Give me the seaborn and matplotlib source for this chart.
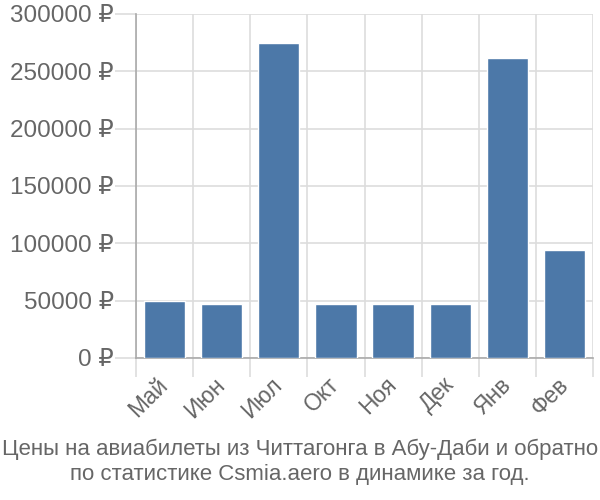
import matplotlib
matplotlib.use("Agg")
import matplotlib.pyplot as plt
import matplotlib.transforms as mtrans
import seaborn as sns
import pandas as pd
import numpy as np

months = ["Май", "Июн", "Июл", "Окт", "Ноя", "Дек", "Янв", "Фев"]
prices = [49500, 47500, 275000, 47500, 47500, 47500, 262000, 94500]
yticks = [0, 50000, 100000, 150000, 200000, 250000, 300000]
caption = "Цены на авиабилеты из Читтагонга в Абу-Даби и обратно\nпо статистике Csmia.aero в динамике за год."

sns.set_theme(style="white")
plt.rcParams['font.family'] = ['Liberation Sans', 'DejaVu Sans']

df = pd.DataFrame({"month": months, "price": prices})

fig = plt.figure(figsize=(6, 5), dpi=100)
ax = fig.add_axes([0.2267, 0.284, 0.7616, 0.688])
sns.barplot(data=df, x="month", y="price", color="#4c78a8", saturation=1,
            width=0.72, ax=ax, zorder=3)

grid_c = "#dddddd"
axis_c = "#aaaaaa"
text_c = "#666666"

n = len(months)
ax.set_xlim(-0.5, n - 0.5)
ax.set_ylim(0, 300000)

for b in np.arange(-0.5, n, 1.0):
    ax.axvline(b, color=grid_c, lw=1.2, zorder=0)
for y in yticks:
    ax.axhline(y, color=grid_c, lw=1.2, zorder=0)

ax.set_yticks(yticks)
ax.set_yticklabels([f"{v} ₽" for v in yticks], fontsize=17.5, color=text_c)
ax.tick_params(axis="y", length=15, width=1.2, color=grid_c, pad=1, left=True)

ax.set_xticks(range(n))
ax.set_xticklabels(months, rotation=45, ha="right", rotation_mode="anchor",
                   fontsize=16.5, color=text_c)
ax.tick_params(axis="x", length=0, pad=11, bottom=True)
ax.set_xticks(np.arange(-0.5, n, 1.0), minor=True)
ax.tick_params(axis="x", which="minor", length=14, width=1.2, color=grid_c, bottom=True)
shift = mtrans.ScaledTranslation(-8 / 100, 0, fig.dpi_scale_trans)
for lbl in ax.get_xticklabels():
    lbl.set_transform(lbl.get_transform() + shift)

for s in ["top", "right"]:
    ax.spines[s].set_visible(False)
ax.spines["left"].set_color(axis_c)
ax.spines["left"].set_linewidth(1.2)
ax.spines["bottom"].set_color(axis_c)
ax.spines["bottom"].set_linewidth(1.2)
ax.set_xlabel("")
ax.set_ylabel("")

fig.text(0.5, 0.03, caption, ha="center", va="bottom", fontsize=16,
         color=text_c, linespacing=1.25)

fig.savefig("out.png", dpi=100)
